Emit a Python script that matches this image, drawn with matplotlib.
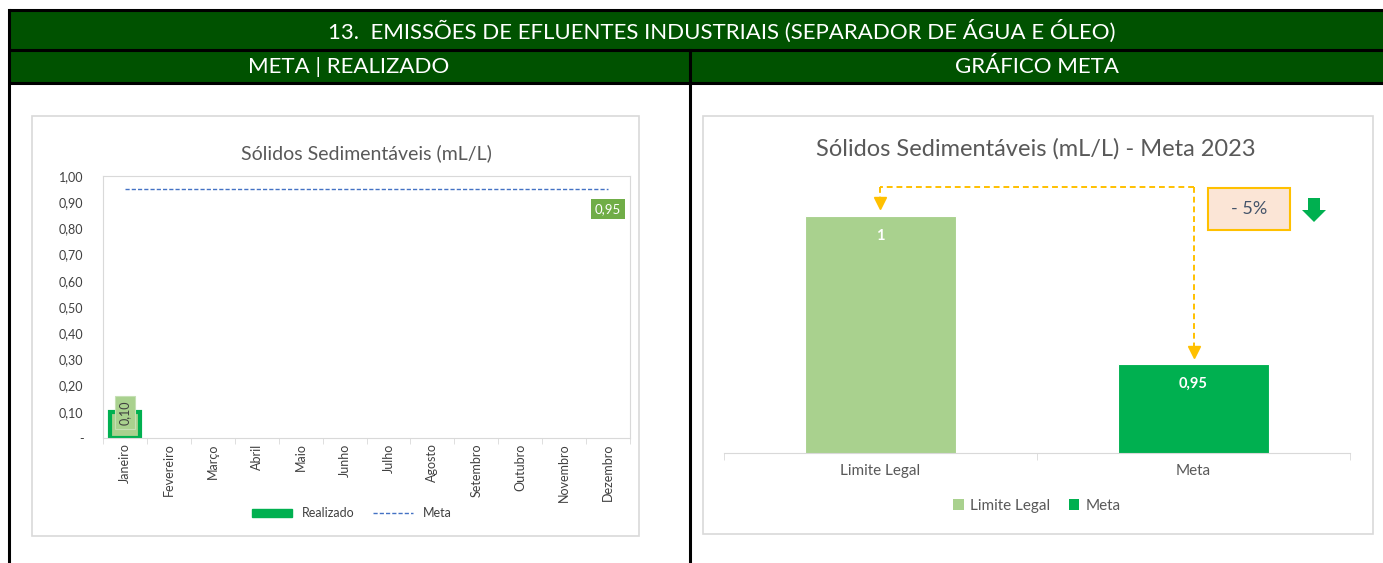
import numpy as np
import matplotlib
matplotlib.use("Agg")
import matplotlib.pyplot as plt
from matplotlib.patches import Rectangle, Polygon, Patch
from matplotlib.lines import Line2D

plt.rcParams['font.family'] = ['Lato', 'DejaVu Sans']

# dados
meses = ['Janeiro', 'Fevereiro', 'Março', 'Abril', 'Maio', 'Junho', 'Julho',
         'Agosto', 'Setembro', 'Outubro', 'Novembro', 'Dezembro']
realizado = [0.10] + [np.nan] * 11
meta_mensal = [0.95] * 12
categorias = ['Limite Legal', 'Meta']
valores = [1.0, 0.95]

W, H = 1383, 563
fig = plt.figure(figsize=(W / 100, H / 100), dpi=100)

GRAY = '#595959'
VERDE_ESC = '#005200'


def fr(x0, y0, x1, y1):
    # caixa em pixels (topo-esquerda) -> fracao da figura
    return [x0 / W, (H - y1) / H, (x1 - x0) / W, (y1 - y0) / H]


def fmt(v, casas=None):
    if casas is not None:
        return f"{v:.{casas}f}".replace('.', ',')
    return f"{v:g}".replace('.', ',')


# fundo / cabecalho
bg = fig.add_axes([0, 0, 1, 1], zorder=0)
bg.set_xlim(0, W)
bg.set_ylim(H, 0)
bg.axis('off')
bg.add_patch(Rectangle((9, 10), W - 9, 40, fc=VERDE_ESC, ec='none'))
bg.add_patch(Rectangle((9, 50), W - 9, 33, fc=VERDE_ESC, ec='none'))
for y in (10, 50, 83):
    bg.plot([9, W], [y, y], color='black', lw=2.2, solid_capstyle='butt')
bg.plot([9, 9], [10, H], color='black', lw=2.2)
bg.plot([689.5, 689.5], [50, H], color='black', lw=2.2)
bg.text(722, 31, '13.  EMISSÕES DE EFLUENTES INDUSTRIAIS (SEPARADOR DE ÁGUA E ÓLEO)',
        color='white', fontsize=16, ha='center', va='center', zorder=5)
bg.text(349, 67, 'META | REALIZADO', color='white', fontsize=16, ha='center', va='center',
        zorder=5)
bg.text(1037, 67, 'GRÁFICO META', color='white', fontsize=16, ha='center', va='center',
        zorder=5)
bg.add_patch(Rectangle((32, 116), 607, 420, fc='white', ec='#D9D9D9', lw=1.2))
bg.add_patch(Rectangle((703, 116), 670, 418, fc='white', ec='#D9D9D9', lw=1.2))

# grafico esquerdo
ax = fig.add_axes(fr(103, 176, 630, 438), zorder=2)
ax.set_facecolor('none')
x = np.arange(len(meses))
ax.bar(x, realizado, width=0.68, color='#A9D18E', edgecolor='#00B050', linewidth=3)
ax.plot(x, meta_mensal, color='#4472C4', lw=1, linestyle=(0, (3, 1.5)))
ax.set_xlim(-0.5, 11.5)
ax.set_ylim(0, 1)
yt = np.round(np.arange(0, 1.01, 0.1), 2)
ax.set_yticks(yt)
ax.set_yticklabels(['-' if v == 0 else fmt(v, 2) for v in yt], fontsize=9, color='#404040')
ax.set_xticks(x)
ax.set_xticklabels(meses, rotation=90, fontsize=9, color='#404040')
ax.set_xticks(np.arange(-0.5, 12, 1), minor=True)
ax.tick_params(axis='x', which='major', length=0, pad=4)
ax.tick_params(axis='x', which='minor', length=4, color='#D9D9D9')
ax.tick_params(axis='y', length=0, pad=14)
for s in ax.spines.values():
    s.set_color('#D9D9D9')
ax.set_title('Sólidos Sedimentáveis (mL/L)', fontsize=14, color=GRAY, pad=12)
ax.annotate(fmt(realizado[0], 2), (0, realizado[0]), xytext=(0, -1),
            textcoords='offset pixels', rotation=90, ha='center', va='center',
            fontsize=9, color='#404040',
            bbox=dict(boxstyle='square,pad=0.35', fc='#A9D18E', ec='#C5E0B4', lw=0.8))
ax.annotate(fmt(meta_mensal[-1], 2), (11, meta_mensal[-1]), xytext=(0, -20),
            textcoords='offset pixels', ha='center', va='center',
            fontsize=9.5, color='white',
            bbox=dict(boxstyle='square,pad=0.3', fc='#70AD47', ec='none'))
ax.legend(handles=[Patch(fc='#00B050', ec='#00B050'),
                   Line2D([], [], color='#4472C4', lw=1, linestyle=(0, (3, 1.5)))],
          labels=['Realizado', 'Meta'], loc='center', ncol=2, frameon=False,
          bbox_to_anchor=(352 / W, (H - 513) / H), bbox_transform=fig.transFigure,
          fontsize=9, handlelength=3.2, handleheight=0.6, columnspacing=1.5,
          labelcolor='#404040')

# grafico direito
ax2 = fig.add_axes(fr(724, 186, 1350, 453), zorder=2)
ax2.set_facecolor('none')
xc = np.arange(len(categorias))
cores = ['#A9D18E', '#00B050']
ax2.bar(xc, valores, width=0.48, color=cores, edgecolor='white', linewidth=0.8)
ax2.set_xlim(-0.5, 1.5)
ax2.set_ylim(0.92, 1.01)
ax2.set_yticks([])
for s in ('left', 'right', 'top'):
    ax2.spines[s].set_visible(False)
ax2.spines['bottom'].set_color('#D9D9D9')
ax2.set_xticks(xc)
ax2.set_xticklabels(categorias, fontsize=11, color=GRAY)
ax2.set_xticks([-0.5, 0.5, 1.5], minor=True)
ax2.tick_params(axis='x', which='major', length=0, pad=8)
ax2.tick_params(axis='x', which='minor', length=5, color='#D9D9D9')
for i, v in enumerate(valores):
    ax2.annotate(fmt(v), (i, v), xytext=(0, -20), textcoords='offset pixels',
                 ha='center', va='center', color='white', fontsize=10.5, fontweight='bold')
fig.text(1036 / W, (H - 149) / H, 'Sólidos Sedimentáveis (mL/L) - Meta 2023',
         fontsize=17, color=GRAY, ha='center', va='center', zorder=3)

# conector tracejado
ytop = max(valores) + 0.0095
LAR = '#FFC000'
ax2.plot([1, 0], [ytop, ytop], color=LAR, lw=1.4, linestyle=(0, (3, 2)), clip_on=False)
for i, v in enumerate(valores):
    ax2.plot([i, i], [ytop, v + 0.005], color=LAR, lw=1.4, linestyle=(0, (3, 2)),
             clip_on=False)
    ax2.plot(i, v + 0.0042, marker='v', ms=8, color=LAR, clip_on=False)

variacao = (valores[1] - valores[0]) / valores[0] * 100
bg.add_patch(Rectangle((1208, 188), 82, 42, fc='#FBE5D6', ec=LAR, lw=1.5, zorder=3))
bg.text(1249, 209, f"- {abs(variacao):.0f}%", fontsize=13, color='#44546A',
        ha='center', va='center', zorder=4)
bg.add_patch(Polygon([(1308, 198), (1320, 198), (1320, 210), (1326, 210), (1314, 222),
                      (1302, 210), (1308, 210)], closed=True, fc='#00B050', ec='none',
                     zorder=3))

ax2.legend(handles=[Patch(fc=c) for c in cores], labels=categorias, loc='center',
           ncol=2, frameon=False, bbox_to_anchor=(1037 / W, (H - 506) / H),
           bbox_transform=fig.transFigure, fontsize=11, handlelength=0.7,
           handleheight=0.7, handletextpad=0.4, columnspacing=1.2, labelcolor=GRAY)

fig.savefig('out.png', dpi=100)
